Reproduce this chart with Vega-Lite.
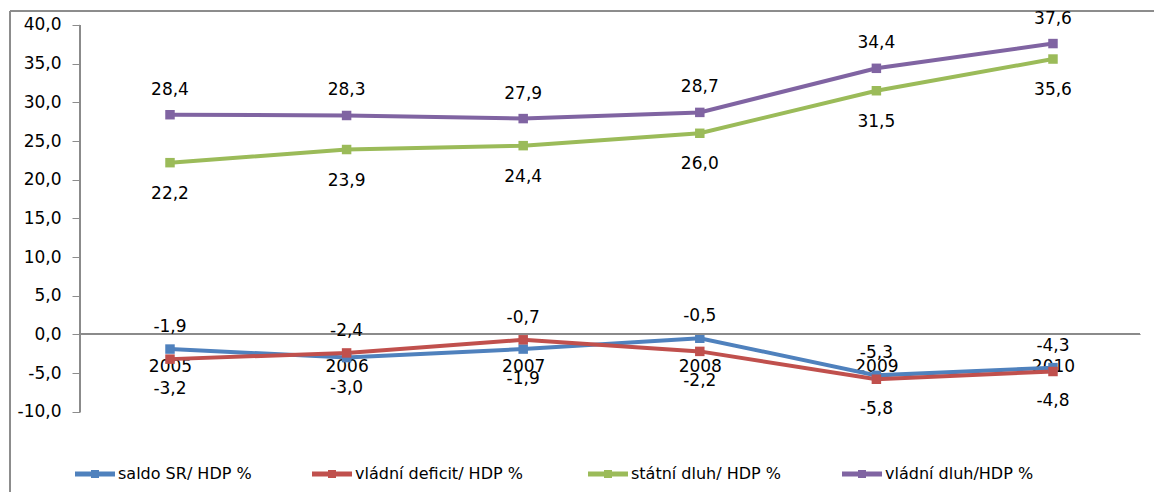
{
  "$schema": "https://vega.github.io/schema/vega-lite/v6.json",
  "width": 1144,
  "height": 481,
  "autosize": {"type": "none"},
  "padding": {"left": 10, "top": 11, "right": 0, "bottom": 0},
  "background": "white",
  "config": {
    "view": {"stroke": null},
    "font": "DejaVu Sans",
    "locale": {"number": {"decimal": ",", "thousands": " ", "grouping": [3], "currency": ["", ""], "minus": "-"}},
    "axis": {"grid": false},
    "legend": {"orient": "none", "legendX": 65, "legendY": 443, "direction": "horizontal", "title": null,
      "symbolType": "M-1,-0.12H1V0.12H-1Z M-0.2,-0.2H0.2V0.2H-0.2Z", "symbolSize": 1600, "symbolStrokeWidth": 0, "symbolOpacity": 1,
      "labelFontSize": 16, "labelColor": "#000000", "labelLimit": 400, "columnPadding": 60, "labelOffset": 3, "padding": 0}
  },
  "data": {"values": [
    {"series": "saldo SR/ HDP %", "year": 2005, "value": -1.9},
    {"series": "saldo SR/ HDP %", "year": 2006, "value": -3.0},
    {"series": "saldo SR/ HDP %", "year": 2007, "value": -1.9},
    {"series": "saldo SR/ HDP %", "year": 2008, "value": -0.5},
    {"series": "saldo SR/ HDP %", "year": 2009, "value": -5.3},
    {"series": "saldo SR/ HDP %", "year": 2010, "value": -4.3},
    {"series": "vládní deficit/ HDP  %", "year": 2005, "value": -3.2},
    {"series": "vládní deficit/ HDP  %", "year": 2006, "value": -2.4},
    {"series": "vládní deficit/ HDP  %", "year": 2007, "value": -0.7},
    {"series": "vládní deficit/ HDP  %", "year": 2008, "value": -2.2},
    {"series": "vládní deficit/ HDP  %", "year": 2009, "value": -5.8},
    {"series": "vládní deficit/ HDP  %", "year": 2010, "value": -4.8},
    {"series": "státní dluh/ HDP %", "year": 2005, "value": 22.2},
    {"series": "státní dluh/ HDP %", "year": 2006, "value": 23.9},
    {"series": "státní dluh/ HDP %", "year": 2007, "value": 24.4},
    {"series": "státní dluh/ HDP %", "year": 2008, "value": 26.0},
    {"series": "státní dluh/ HDP %", "year": 2009, "value": 31.5},
    {"series": "státní dluh/ HDP %", "year": 2010, "value": 35.6},
    {"series": "vládní dluh/HDP %", "year": 2005, "value": 28.4},
    {"series": "vládní dluh/HDP %", "year": 2006, "value": 28.3},
    {"series": "vládní dluh/HDP %", "year": 2007, "value": 27.9},
    {"series": "vládní dluh/HDP %", "year": 2008, "value": 28.7},
    {"series": "vládní dluh/HDP %", "year": 2009, "value": 34.4},
    {"series": "vládní dluh/HDP %", "year": 2010, "value": 37.6}
  ]},
  "encoding": {
    "x": {
      "field": "year", "type": "quantitative",
      "scale": {"domain": [2004.094, 2010.572], "nice": false, "zero": false},
      "axis": {"values": [2005, 2006, 2007, 2008, 2009, 2010], "format": "d", "offset": -158, "domain": false, "ticks": false, "labelPadding": 24, "labelFontSize": 17, "labelColor": "#000000", "labelFlush": false, "title": null}
    },
    "y": {
      "field": "value", "type": "quantitative",
      "scale": {"domain": [-20.38, 41.81], "nice": false, "zero": false},
      "axis": {"values": [-10, -5, 0, 5, 10, 15, 20, 25, 30, 35, 40], "format": ".1f", "offset": -70, "domain": false, "tickSize": 8, "tickColor": "#8c8c8c", "labelPadding": 11, "labelFontSize": 17, "labelColor": "#000000", "title": null}
    },
    "color": {"field": "series", "type": "nominal",
      "scale": {"domain": ["saldo SR/ HDP %", "vládní deficit/ HDP  %", "státní dluh/ HDP %", "vládní dluh/HDP %"], "range": ["#4F81BD", "#C0504D", "#9BBB59", "#8064A2"]}}
  },
  "layer": [
    {
      "mark": {"type": "line", "strokeWidth": 4}
    },
    {
      "mark": {"type": "point", "shape": "square", "filled": true, "size": 90, "opacity": 1}
    },
    {
      "mark": {"type": "rule", "strokeWidth": 1},
      "encoding": {"color": {"value": "#8c8c8c"}, "x": {"datum": 2004.094, "type": "quantitative"}, "y": {"datum": -20.38, "type": "quantitative"}, "y2": {"datum": 41.81}}
    },
    {
      "mark": {"type": "rule", "strokeWidth": 1},
      "encoding": {"color": {"value": "#8c8c8c"}, "y": {"datum": 41.81, "type": "quantitative"}, "x": {"datum": 2004.094, "type": "quantitative"}, "x2": {"datum": 2010.572}}
    },
    {
      "mark": {"type": "rule", "strokeWidth": 1},
      "encoding": {"color": {"value": "#8c8c8c"}, "x": {"datum": 2004.49, "type": "quantitative"}, "y": {"datum": -10, "type": "quantitative"}, "y2": {"datum": 40}}
    },
    {
      "mark": {"type": "rule", "strokeWidth": 1},
      "encoding": {"color": {"value": "#8c8c8c"}, "y": {"datum": 0, "type": "quantitative"}, "x": {"datum": 2004.49, "type": "quantitative"}, "x2": {"datum": 2010.493}}
    },
    {
      "transform": [{"filter": "datum.series == 'vládní dluh/HDP %'"}],
      "mark": {"type": "text", "dy": -25, "fontSize": 17},
      "encoding": {"color": {"value": "#000000"}, "text": {"field": "value", "type": "quantitative", "format": ".1f"}}
    },
    {
      "transform": [{"filter": "datum.series == 'státní dluh/ HDP %'"}],
      "mark": {"type": "text", "dy": 31, "fontSize": 17},
      "encoding": {"color": {"value": "#000000"}, "text": {"field": "value", "type": "quantitative", "format": ".1f"}}
    },
    {
      "transform": [
        {"filter": "datum.value < 0"},
        {"joinaggregate": [{"op": "max", "field": "value", "as": "mx"}], "groupby": ["year"]},
        {"filter": "datum.value == datum.mx"}
      ],
      "mark": {"type": "text", "dy": -22, "fontSize": 17},
      "encoding": {"color": {"value": "#000000"}, "text": {"field": "value", "type": "quantitative", "format": ".1f"}}
    },
    {
      "transform": [
        {"filter": "datum.value < 0"},
        {"joinaggregate": [{"op": "min", "field": "value", "as": "mn"}], "groupby": ["year"]},
        {"filter": "datum.value == datum.mn"}
      ],
      "mark": {"type": "text", "dy": 30, "fontSize": 17},
      "encoding": {"color": {"value": "#000000"}, "text": {"field": "value", "type": "quantitative", "format": ".1f"}}
    }
  ]
}
